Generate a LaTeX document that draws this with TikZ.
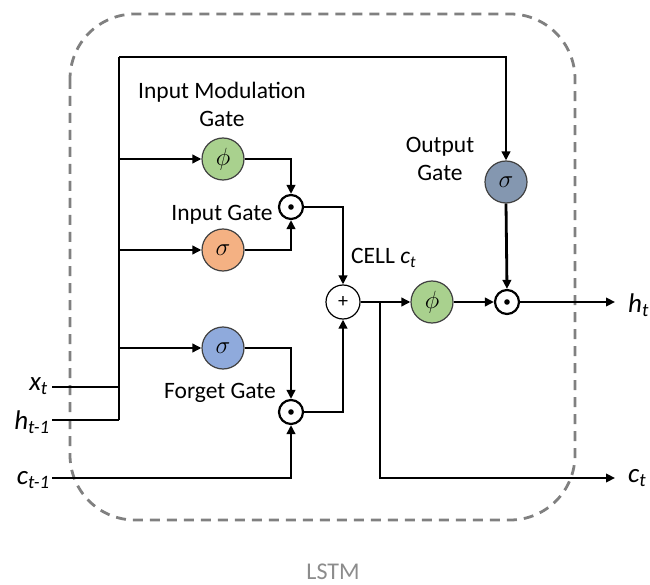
\documentclass[tikz,border=0pt]{standalone}
\usepackage{fontspec}
\setmainfont{Carlito}
\usetikzlibrary{arrows.meta}
\definecolor{gphi}{HTML}{A9D18E}
\definecolor{gin}{HTML}{F4B183}
\definecolor{gfg}{HTML}{8FAADC}
\definecolor{gout}{HTML}{8497B0}
\definecolor{dashgray}{HTML}{808080}
\begin{document}
\begin{tikzpicture}[x=1pt,y=-1pt,
  wire/.style={line width=2.8pt,black},
  arr/.style={wire,-{Triangle[length=9pt,width=8.5pt]}},
  gate/.style={circle,draw=black!75,line width=1.2pt,minimum size=42pt,inner sep=0pt,font=\fontsize{25}{25}\selectfont},
  opnode/.style={circle,draw=black,line width=2.2pt,fill=white,minimum size=24pt,inner sep=0pt},
  lbl/.style={font=\fontsize{23.5}{28}\selectfont,align=center,inner sep=0pt},
  io/.style={font=\fontsize{27}{27}\selectfont\itshape,inner sep=0pt}]
\useasboundingbox (0,0) rectangle (650,585);
% dashed box
\draw[dashgray,line width=2.8pt,dash pattern=on 10pt off 7pt,rounded corners=65pt] (70,14) rectangle (575,520);
% coordinates
\coordinate (tl) at (119,57);
\coordinate (hb) at (119,420);
\coordinate (b1) at (119,159);
\coordinate (b2) at (119,250);
\coordinate (b3) at (119,348);
\coordinate (bx) at (119,387);
\coordinate (xs) at (52,387);
\coordinate (hs) at (52,420);
\coordinate (cs) at (52,478);
\coordinate (cb) at (380,302);
\coordinate (ho) at (615,302);
\coordinate (co) at (615,478);
% nodes
\node[gate,fill=gphi] (phi) at (223,159) {$\phi$};
\node[gate,fill=gin] (ig) at (223,250) {$\sigma$};
\node[gate,fill=gfg] (fg) at (223,348) {$\sigma$};
\node[gate,fill=gout] (og) at (506,182) {$\sigma$};
\node[gate,fill=gphi] (phi2) at (432,302) {$\phi$};
\node[opnode] (m1) at (291,207) {};
\node[opnode] (m2) at (291,412) {};
\node[opnode] (m3) at (507,302) {};
\node[circle,draw=black,line width=1.2pt,fill=white,minimum size=34pt,inner sep=0pt,font=\fontsize{20}{20}\selectfont] (plus) at (343,302) {+};
\foreach \m in {m1,m2,m3} \fill (\m) circle (2.8pt);
% wires
\draw[wire] (tl) -- (hb);
\draw[wire] (xs) -- (bx);
\draw[wire] (hs) -- (hb);
\draw[arr] (tl) -| (og.north);
\draw[arr] (b1) -- (phi.west);
\draw[arr] (b2) -- (ig.west);
\draw[arr] (b3) -- (fg.west);
\draw[arr] (phi.east) -| (m1.north);
\draw[arr] (ig.east) -| (m1.south);
\draw[arr] (fg.east) -| (m2.north);
\draw[arr] (cs) -| (m2.south);
\draw[arr] (m1.east) -| (plus.north);
\draw[arr] (m2.east) -| (plus.south);
\draw[arr] (plus.east) -- (phi2.west);
\draw[arr] (phi2.east) -- (m3.west);
\draw[arr] (og.south) -- (m3.north);
\draw[arr] (m3.east) -- (ho);
\draw[arr] (cb) |- (co);
% labels
\node[lbl] (l1) at (222,104) {Input Modulation\\Gate};
\node[lbl] (l2) at (222,215) {Input Gate};
\node[lbl] (l3) at (220,393) {Forget Gate};
\node[lbl] (l4) at (440,159) {Output\\Gate};
\node[lbl,anchor=west] (l5) at (351,258) {CELL \textit{c}\textsubscript{\textit{t}}};
\node[io,anchor=east] (xt) at (48,386) {x\textsubscript{t}};
\node[io,anchor=east] (ht) at (50,422) {h\textsubscript{t-1}};
\node[io,anchor=east] (ct) at (50,480) {c\textsubscript{t-1}};
\node[io,anchor=west] (hto) at (628,305) {h\textsubscript{t}};
\node[io,anchor=west] (cto) at (628,478) {c\textsubscript{t}};
\node[font=\fontsize{24}{24}\selectfont,text=black!45,inner sep=0pt,anchor=base] (lstm) at (333,579) {LSTM};
\end{tikzpicture}
\end{document}
